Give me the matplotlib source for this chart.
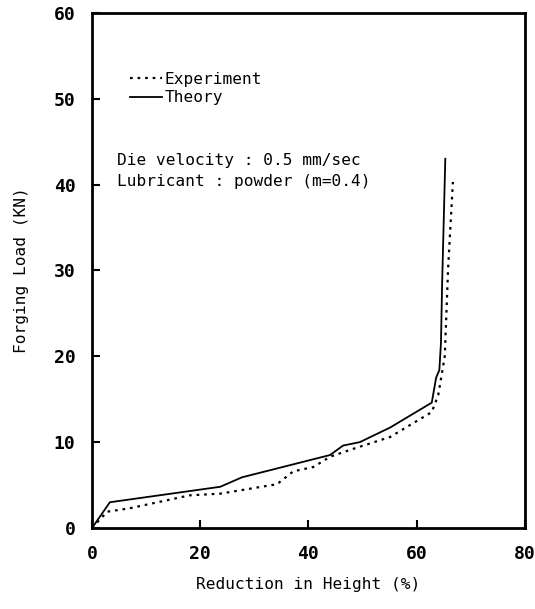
import matplotlib
matplotlib.use("Agg")
import matplotlib.pyplot as plt
from matplotlib import rcParams

rcParams['font.family'] = 'DejaVu Sans Mono'

# reduction in height (%) vs forging load (KN)
exp_x = [0, 2.8, 7.0, 18.0, 23.7, 34.2, 37.2, 40.9, 44.0, 47.7, 55.1, 62.8, 64.0, 65.2, 65.6, 65.8, 66.7]
exp_y = [0, 1.9, 2.3, 3.8, 4.0, 5.1, 6.6, 7.1, 8.3, 9.1, 10.6, 13.5, 15.5, 20.0, 26.6, 30.0, 40.3]

th_x = [0, 3.3, 23.7, 27.7, 44.0, 46.4, 49.5, 55.1, 62.8, 63.6, 64.2, 64.5, 64.7, 65.3]
th_y = [0, 3.0, 4.8, 5.9, 8.5, 9.6, 10.0, 11.7, 14.6, 17.5, 18.4, 21.6, 28.1, 43.0]

x_ticks = [0, 20, 40, 60, 80]
y_ticks = [0, 10, 20, 30, 40, 50, 60]

TEXT_SIZE = 11.6


def main():
    fig = plt.figure(figsize=(5.35, 6.09), dpi=100)
    ax = fig.add_axes([0.172, 0.133, 0.809, 0.846])

    ax.plot(exp_x, exp_y, color='black', lw=1.6, linestyle=(0, (1.2, 2.2)), label='Experiment')
    ax.plot(th_x, th_y, color='black', lw=1.3, label='Theory')

    ax.set_xlim(0, 80)
    ax.set_ylim(0, 60)
    ax.set_xticks(x_ticks)
    ax.set_yticks(y_ticks)
    ax.tick_params(direction='in', length=6, width=1.5, labelsize=13, pad=12)
    for lab in ax.get_xticklabels() + ax.get_yticklabels():
        lab.set_fontweight('bold')
    for sp in ax.spines.values():
        sp.set_linewidth(2)

    ax.set_xlabel('Reduction in Height (%)', fontsize=TEXT_SIZE, labelpad=10)
    ax.set_ylabel('Forging Load (KN)', fontsize=TEXT_SIZE, labelpad=18)

    ax.legend(loc='upper left', bbox_to_anchor=(0.088, 0.885), frameon=False,
              fontsize=TEXT_SIZE, handlelength=2.0, handletextpad=0.15,
              borderpad=0, borderaxespad=0, labelspacing=0.2)

    ax.text(4.6, 42.8, 'Die velocity : 0.5 mm/sec', fontsize=TEXT_SIZE, va='center')
    ax.text(4.6, 40.4, 'Lubricant : powder (m=0.4)', fontsize=TEXT_SIZE, va='center')

    fig.savefig('out.png', dpi=100)


if __name__ == "__main__":
    main()
